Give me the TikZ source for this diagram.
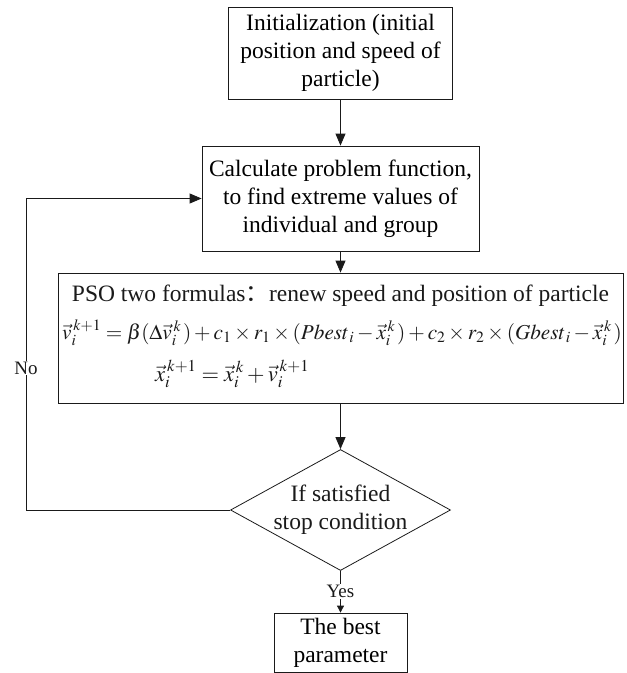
\documentclass[tikz,border=0pt]{standalone}
\usepackage{mathptmx}
\usepackage[no-math]{fontspec}
\setmainfont{Liberation Serif}
\newfontfamily\cjk{Noto Sans CJK SC}
\usetikzlibrary{shapes.geometric,arrows.meta}
\begin{document}
\begin{tikzpicture}[x=1pt,y=-1pt,font=\fontsize{23.5}{28}\selectfont]
\definecolor{ink}{HTML}{1A1A1A}
\tikzset{
  stepbox/.style={draw=ink,line width=.8pt,inner sep=0pt,align=center},
  flow/.style={draw=ink,line width=.8pt,-{Triangle[length=12pt,width=10pt]}},
  flowsmall/.style={draw=ink,line width=.8pt,-{Triangle[length=7pt,width=7pt]}},
  tag/.style={fill=white,inner sep=1pt,text=ink,font=\fontsize{19}{22}\selectfont},
  formula/.style={text=ink,inner sep=0pt,font=\fontsize{21.2}{25}\selectfont}
}
\useasboundingbox (0,0) rectangle (627,673);
\node[stepbox,minimum width=224pt,minimum height=92pt] (init) at (340.5,53) {Initialization (initial\\position and speed of\\particle)};
\node[stepbox,minimum width=277pt,minimum height=105pt] (calc) at (340.5,198.5) {Calculate problem function,\\to find extreme values of\\individual and group};
\node[stepbox,minimum width=565pt,minimum height=130pt] (pso) at (340.5,338) {};
\node[text=ink,inner sep=0pt] (psotitle) at (340.5,296) {PSO two formulas{\cjk ：}renew speed and position of particle};
\node[formula,anchor=base west] (speed) at (62,339) {$\vec{v}_i^{\,k+1}=\beta(\Delta\vec{v}_i^{\,k\,})+c_1\times r_1\times(Pbest_{\,i}-\vec{x}_i^{\,k\,})+c_2\times r_2\times(Gbest_{\,i}-\vec{x}_i^{\,k\,})$};
\node[formula,anchor=base west,font=\fontsize{22.5}{26}\selectfont] (place) at (155,381) {$\vec{x}_i^{\,k+1}=\vec{x}_i^{\,k}+\vec{v}_i^{\,k+1}$};
\node[draw=ink,line width=.8pt,diamond,minimum width=220pt,minimum height=121pt,inner sep=0pt] (cond) at (340.5,510) {};
\node[text=ink,align=center,inner sep=0pt] (condtext) at (cond) {If satisfied\\stop condition};
\node[stepbox,minimum width=133pt,minimum height=59pt] (best) at (340.5,642.5) {The best\\parameter};
\coordinate (loopx) at (26,0);
% connectors
\draw[flow] (init) -- (calc);
\draw[flow] (calc) -- (pso);
\draw[flow] (pso) -- (cond);
\draw[flowsmall] (cond.south) -- node[tag] (yes) {Yes} (best.north);
\draw[flow] (cond.west) -- (cond.west -| loopx) |- (calc.west);
\node[tag] (no) at (26,368) {No};
\end{tikzpicture}
\end{document}
